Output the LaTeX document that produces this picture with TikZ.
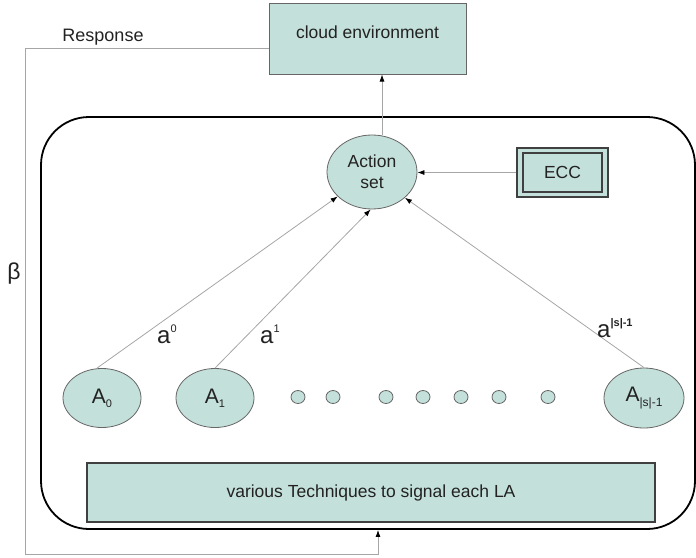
\documentclass[tikz,border=0pt]{standalone}
\usepackage{fontspec}
\setmainfont{Liberation Sans}
\usetikzlibrary{arrows.meta,shapes.geometric}
\definecolor{teal0}{HTML}{C4E0DA}
\definecolor{ink}{HTML}{222222}
\definecolor{wire}{HTML}{A6A6A6}
\newcommand{\fs}[1]{\fontsize{#1}{#1}\selectfont}
\begin{document}
\begin{tikzpicture}[x=1pt,y=-1pt,
  txt/.style={text=ink,font=\fs{17.5}},
  tbox/.style={draw=black!75,line width=1.4pt,fill=teal0,inner sep=0pt,txt},
  ell/.style={ellipse,draw=black!60,line width=0.8pt,fill=teal0,inner sep=0pt,txt},
  lan/.style={ell,font=\fs{21}},
  dotn/.style={ellipse,draw=black!60,line width=0.8pt,fill=teal0,inner sep=0pt,minimum width=14pt,minimum height=13pt},
  conn/.style={draw=wire,line width=0.8pt,-{Latex[length=7pt,width=5pt,color=black]}},
  lbl/.style={text=ink,font=\fs{24},inner sep=0pt,anchor=base west}
]
\useasboundingbox (0,0) rectangle (696,557);
% outer system box
\node[draw=black,line width=1.8pt,rounded corners=48pt,minimum width=654pt,minimum height=412pt,inner sep=0pt] (sys) at (368,323) {};
% cloud environment
\node[tbox,draw=black!60,line width=1pt,minimum width=197pt,minimum height=71pt,text height=13pt,text depth=14pt] (cloud) at (367.5,38.5) {cloud environment};
\node[txt,font=\fs{18}] (resp) at (103,37) {Response};
\node[txt,font=\fs{23}] (beta) at (14,274) {β};
% action set
\node[ell,minimum width=90pt,minimum height=74pt,align=center,font=\fontsize{17.5}{21}\selectfont] (act) at (372,172) {Action\\set};
% ECC
\node[tbox,line width=1.8pt,minimum width=91pt,minimum height=49pt] (ecc) at (562.5,172.5) {};
\node[tbox,line width=1.8pt,minimum width=79pt,minimum height=39pt] (eccin) at (562.5,172.5) {ECC};
% LA nodes
\node[lan,minimum width=78pt,minimum height=59pt] (A0) at (102,398) {A\raisebox{-4pt}{\fs{11}0}};
\node[lan,minimum width=78pt,minimum height=59pt] (A1) at (215,398) {A\raisebox{-4pt}{\fs{11}1}};
\node[lan,minimum width=80pt,minimum height=60pt] (An) at (644,398) {A\raisebox{-5pt}{\fs{12}|s|-1}};
\foreach \i/\x in {1/298,2/333,3/386,4/423,5/461,6/499,7/548}
  \node[dotn] (d\i) at (\x,397) {};
% bottom box
\node[tbox,line width=1.8pt,minimum width=568pt,minimum height=59pt] (sig) at (371,492.5) {various Techniques to signal each LA};
% connectors
\draw[conn] (act.north -| 382,0) -- (cloud.south -| 382,0);
\draw[conn] (ecc.west) -- (act.east |- ecc.west);
\draw[conn] ([xshift=-5pt]A0.north) -- (act);
\draw[conn] (A1.north) -- (act.-92);
\draw[conn] (An.north) -- (act.-38);
\coordinate (fbl) at (25,554);
\draw[draw=wire,line width=0.9pt,-{Latex[length=7pt,width=5pt,color=black]}]
  ([yshift=-9.5pt]cloud.west) -| (fbl) -| ([xshift=10pt]sys.south);
% edge labels
\node[lbl] (l0) at (157,343) {a\raisebox{11pt}{\fs{11}0}};
\node[lbl] (l1) at (260,343) {a\raisebox{11pt}{\fs{11}1}};
\node[lbl] (ln) at (597,337) {a\raisebox{11pt}{\fs{11}\bfseries |s|-1}};
\end{tikzpicture}
\end{document}
